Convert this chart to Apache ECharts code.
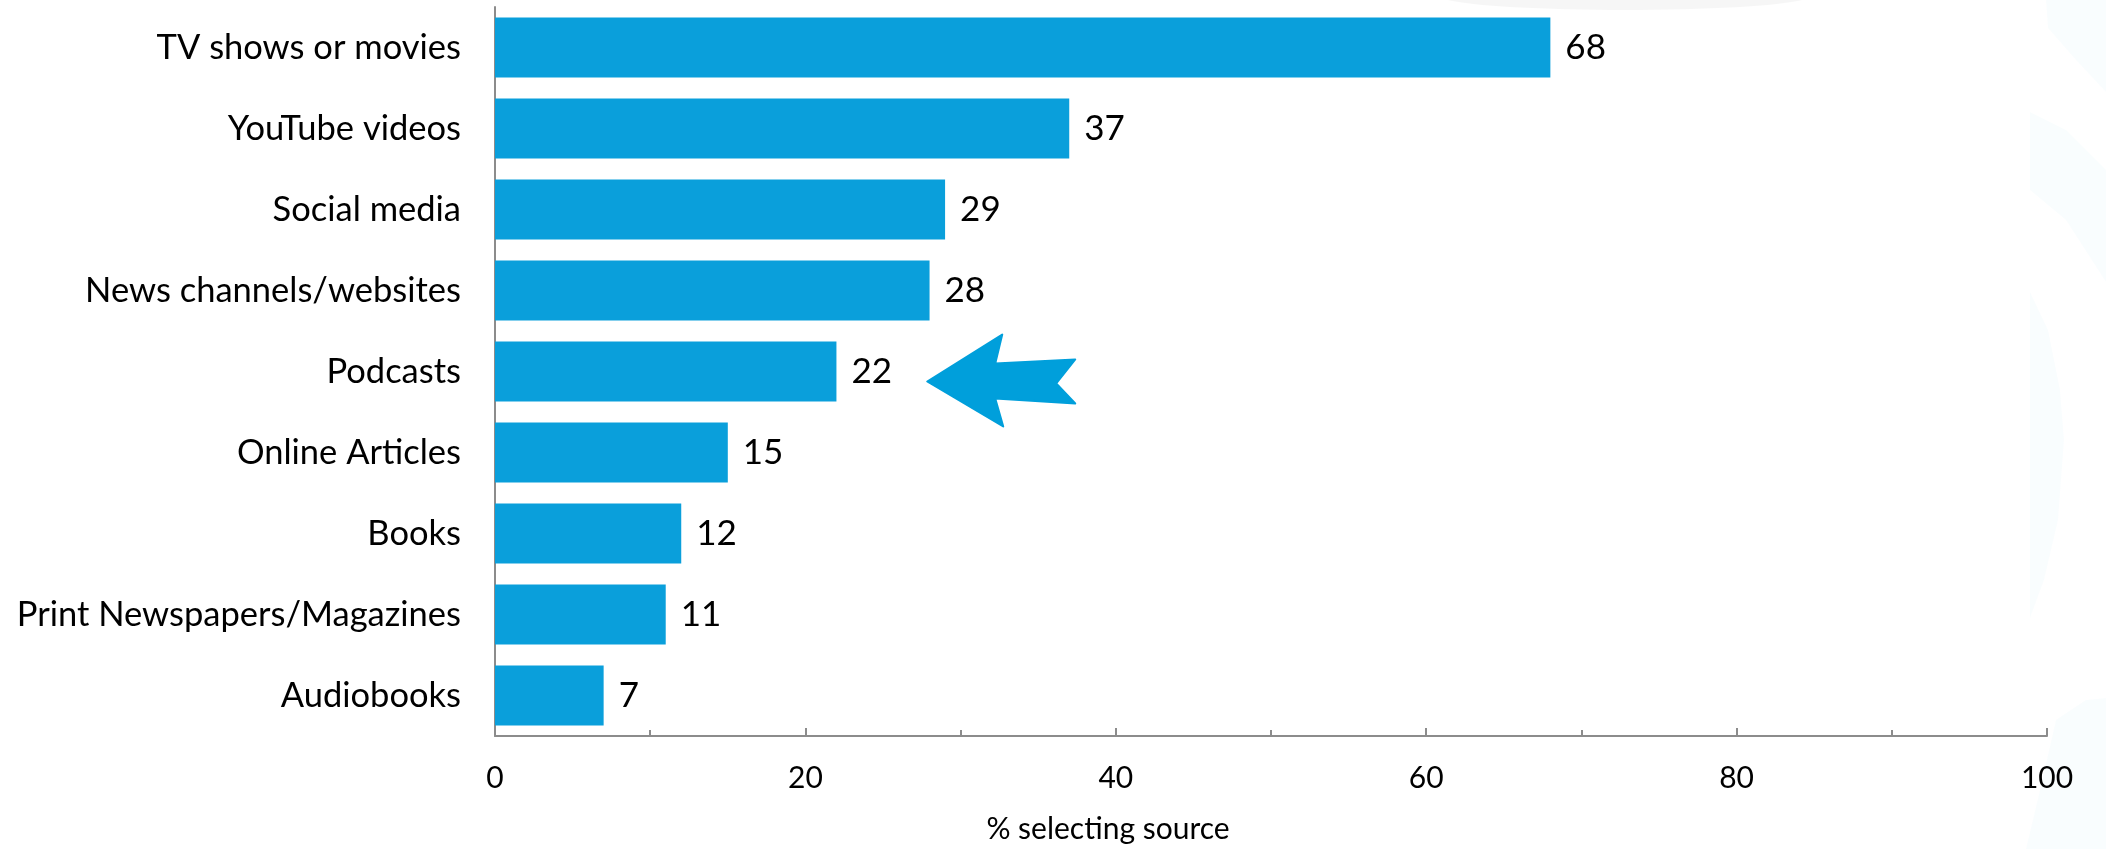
<!DOCTYPE html>
<html>
<head>
<meta charset="utf-8">
<script src="https://cdn.jsdelivr.net/npm/echarts@6/dist/echarts.min.js"></script>
<style>
  html, body { margin: 0; padding: 0; background: #ffffff; }
  #chart { width: 2106px; height: 849px; }
</style>
</head>
<body>
<div id="chart"></div>
<script>
// Sources, listed top to bottom, and the share choosing each one
const categories = [
  'TV shows or movies',
  'YouTube videos',
  'Social media',
  'News channels/websites',
  'Podcasts',
  'Online Articles',
  'Books',
  'Print Newspapers/Magazines',
  'Audiobooks'
];
const shares = [68, 37, 29, 28, 22, 15, 12, 11, 7];

// Value axis range and tick step
const axisMin = 0;
const axisMax = 100;
const axisStep = 20;
const axisTitle = '% selecting source';

// Category picked out by the arrow, and where along the axis its tip sits
const highlighted = 'Podcasts';
const arrowTipValue = 27.85;

const FONT = 'Lato, "Open Sans", sans-serif';
const BAR_BLUE = '#0a9fdb';
const ARROW_BLUE = '#009fdb';
const AXIS_GREY = '#8c8c8c';

const chart = echarts.init(document.getElementById('chart'), null, { renderer: 'canvas' });

chart.setOption({
  backgroundColor: '#ffffff',
  animation: false,
  grid: { left: 495, right: 59, top: 7, bottom: 111, containLabel: false },
  xAxis: {
    type: 'value',
    min: axisMin,
    max: axisMax,
    interval: axisStep,
    axisLine: { show: true, lineStyle: { color: AXIS_GREY, width: 2 } },
    axisTick: { show: true, inside: true, length: 8, lineStyle: { color: AXIS_GREY, width: 2 } },
    minorTick: { show: true, splitNumber: 2, length: 6, lineStyle: { color: AXIS_GREY, width: 2 } },
    splitLine: { show: false },
    axisLabel: { color: '#000', fontFamily: FONT, fontSize: 30, margin: 27 },
    name: axisTitle,
    nameLocation: 'middle',
    nameGap: 78,
    nameTextStyle: { color: '#000', fontFamily: FONT, fontSize: 30, padding: [0, 326, 0, 0] }
  },
  yAxis: {
    type: 'category',
    data: categories,
    inverse: true,
    axisLine: { show: true, lineStyle: { color: AXIS_GREY, width: 2 } },
    axisTick: { show: false },
    splitLine: { show: false },
    axisLabel: { color: '#000', fontFamily: FONT, fontSize: 34.5, margin: 34 }
  },
  series: [{
    type: 'bar',
    data: shares,
    barWidth: 60,
    itemStyle: { color: BAR_BLUE },
    label: {
      show: true,
      position: 'right',
      distance: 15,
      color: '#000',
      fontFamily: FONT,
      fontSize: 35
    }
  }]
});

// Arrow pointing at the highlighted bar, built around its tip
const tip = chart.convertToPixel({ gridIndex: 0 }, [arrowTipValue, highlighted]);
const tx = tip[0];
const ty = tip[1] + 10;
const arrowShape = [
  [0, 0], [75, -47], [68, -18], [148, -22], [129, 2], [148, 22], [68, 17], [76, 45]
].map(p => [tx + p[0], ty + p[1]]);

// Faint watermark shapes along the right edge and a soft shadow along the top
const W = 2106;
const WASH = 'rgba(0,150,210,0.025)';
chart.setOption({
  graphic: [
    {
      type: 'ellipse', silent: true, z: -10,
      shape: { cx: 1625, cy: -4, rx: 185, ry: 14 },
      style: { fill: 'rgba(0,0,0,0.035)' }
    },
    {
      type: 'polygon', silent: true, z: -10,
      shape: { points: [[W - 60, 0], [W, 0], [W, 92], [W - 30, 60], [W - 58, 28]] },
      style: { fill: WASH }
    },
    {
      type: 'polygon', silent: true, z: -10,
      shape: { points: [[W - 76, 112], [W - 40, 130], [W, 170], [W, 282], [W - 40, 220], [W - 76, 190]] },
      style: { fill: WASH }
    },
    {
      type: 'polygon', silent: true, z: -10,
      shape: {
        points: [[W - 76, 292], [W - 58, 330], [W - 46, 390], [W - 42, 440], [W - 48, 520],
                 [W - 62, 580], [W - 76, 618]]
      },
      style: { fill: WASH }
    },
    {
      type: 'polygon', silent: true, z: -10,
      shape: { points: [[W - 50, 720], [W - 20, 700], [W, 698], [W, 849], [W - 80, 849], [W - 66, 790]] },
      style: { fill: WASH }
    },
    {
      type: 'polygon', silent: true, z: 100,
      shape: { points: arrowShape, smooth: 0 },
      style: { fill: ARROW_BLUE, stroke: ARROW_BLUE, lineWidth: 2, lineJoin: 'round' }
    }
  ]
});
</script>
</body>
</html>
